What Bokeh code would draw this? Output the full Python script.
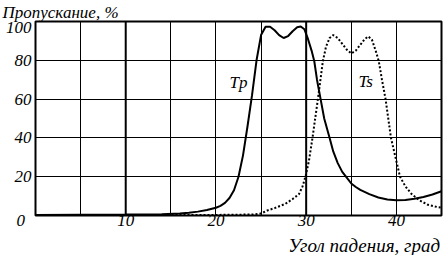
from bokeh.plotting import figure
from bokeh.models import Range1d, FixedTicker, Label, Span, Title
from bokeh.embed import file_html
from bokeh.resources import INLINE

# Tp (solid) — transmission vs angle
angle_tp = [0, 5, 10, 14, 16, 17, 18, 19, 20, 20.5, 21, 21.5, 22, 22.5, 23, 23.5, 24,
            24.5, 25, 25.5, 26, 26.5, 27, 27.5, 28, 28.5, 29, 29.4, 29.8, 30.2, 30.6,
            30.9, 31.2, 31.6, 32, 32.6, 33, 33.5, 34, 34.5, 35, 35.5, 36, 37, 38, 39,
            40, 41, 42, 43, 44, 45]
tp = [0.3, 0.4, 0.5, 0.7, 1.0, 1.4, 2.0, 2.8, 4.0, 5.0, 6.5, 9.0, 13, 20, 31, 46, 62,
      80, 93, 97.3, 97.3, 95.5, 93, 91.5, 92.5, 95, 97, 97.4, 96, 91, 85,
      79.5, 70, 60, 50, 40, 33, 27, 22.5, 19.5, 16.5, 14.7, 13.2, 11, 9.3, 8.3,
      7.9, 8.0, 8.6, 9.5, 10.8, 12.5]

# Ts (dotted)
angle_ts = [0, 10, 20, 24, 25, 25.7, 26.5, 27.7, 28.5, 29.2, 29.6, 29.95, 30.3, 30.7,
            31.3, 31.85, 32.2, 32.6, 33, 33.5, 34, 34.5, 35, 35.5, 36, 36.5, 36.9,
            37.3, 37.7, 38.05, 38.4, 38.8, 39.1, 39.4, 39.9, 40.4, 41, 41.7, 42.6,
            43.5, 44.6, 45]
ts = [0.2, 0.2, 0.3, 0.5, 1.0, 2.6, 3.8, 6.0, 8.5, 11, 15, 20.5, 28, 40,
      60, 79.5, 87, 91.5, 93, 91.5, 88.5, 85.5, 83.5, 85, 88, 91, 92.3,
      90.5, 85, 79.5, 70, 60, 50, 40, 30, 20, 15, 11, 7.7,
      5.5, 4.3, 4.0]

x_ticks = [0, 10, 20, 30, 40]
y_ticks = [20, 40, 60, 80, 100]
x_grid = [5, 10, 15, 20, 25, 30, 35, 40]
y_grid = [20, 40, 60, 80]
bold_x = [10, 30]

title_text = "Пропускание, %"
xlabel_text = "Угол падения, град"
FONT = "Liberation Serif"

p = figure(width=443, height=255, output_backend="svg", toolbar_location=None,
           x_range=Range1d(0, 45), y_range=Range1d(0, 100),
           min_border_left=35, min_border_right=2, min_border_top=20,
           min_border_bottom=40)
p.background_fill_color = "white"
p.border_fill_color = "white"
p.outline_line_color = "black"
p.outline_line_width = 2

for ax in (p.xaxis[0], p.yaxis[0]):
    ax.axis_line_color = None
    ax.major_tick_line_color = None
    ax.minor_tick_line_color = None
    ax.major_tick_out = 0
    ax.major_tick_in = 0
    ax.minor_tick_out = 0
    ax.minor_tick_in = 0
    ax.major_label_text_font = FONT
    ax.major_label_text_font_style = "italic"
    ax.major_label_text_font_size = "17px"
    ax.major_label_text_color = "black"

# the "0" label sits left of the corner and "100" sits below the top edge,
# as in the source; done by padding / nudging the tick labels.
Y_TOP_NUDGE = 3
p.xaxis[0].ticker = FixedTicker(ticks=x_ticks)
p.xaxis[0].major_label_overrides = {0: "0" + "\u00a0" * 7}
p.yaxis[0].ticker = FixedTicker(ticks=y_ticks[:-1] + [y_ticks[-1] - Y_TOP_NUDGE])
p.yaxis[0].major_label_overrides = {y_ticks[-1] - Y_TOP_NUDGE: str(y_ticks[-1])}
p.xaxis[0].major_label_standoff = -5
p.yaxis[0].major_label_standoff = 4

p.xgrid[0].ticker = FixedTicker(ticks=x_grid)
p.ygrid[0].ticker = FixedTicker(ticks=y_grid)
for g in (p.xgrid[0], p.ygrid[0]):
    g.grid_line_color = "black"
    g.grid_line_width = 1
    g.grid_line_alpha = 1.0

for bx in bold_x:
    p.add_layout(Span(location=bx, dimension="height", line_color="black", line_width=2))

p.line(angle_ts, ts, line_color="black", line_width=2, line_dash="2 2")
p.line(angle_tp, tp, line_color="black", line_width=2)

p.title.text = title_text
p.title.align = "left"
p.title.offset = -33
p.title.standoff = 0
p.title.text_font = FONT
p.title.text_font_style = "italic"
p.title.text_font_size = "17px"
p.title.text_color = "black"

p.add_layout(Title(text=xlabel_text, align="right", offset=1.5, standoff=0,
                   text_font=FONT, text_font_style="italic", text_font_size="19px",
                   text_color="black"), "below")

def lab(x, y, t):
    p.add_layout(Label(x=x, y=y, text=t, text_font=FONT, text_font_style="italic",
                       text_font_size="17px", text_align="center",
                       text_baseline="alphabetic", text_color="black"))

lab(22.5, 68.6, "Tp")
lab(36.6, 69.0, "Ts")

open("out.html", "w").write(file_html(p, INLINE))
